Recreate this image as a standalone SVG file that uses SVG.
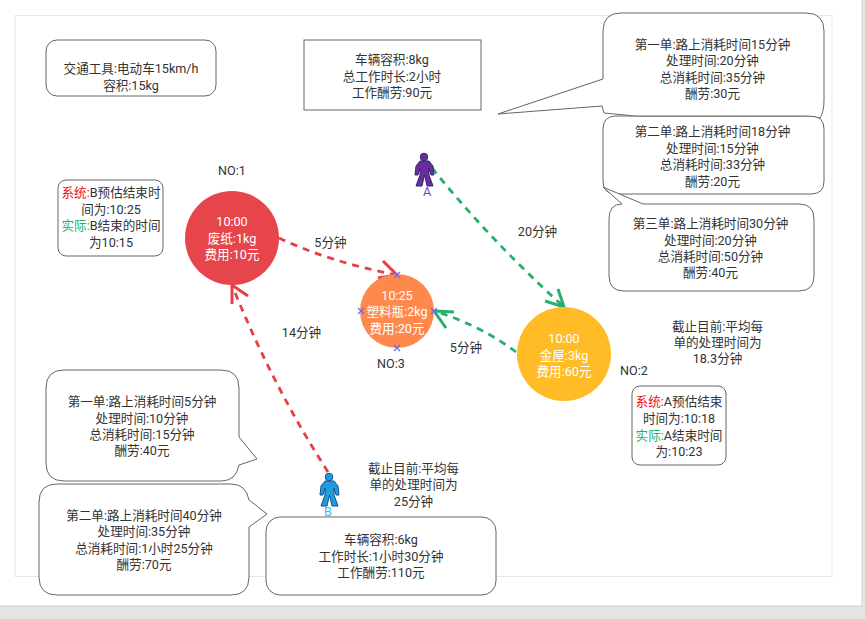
<svg xmlns="http://www.w3.org/2000/svg" width="865" height="619" viewBox="0 0 865 619">
<style>
text{font-family:Roboto,"Noto Sans CJK SC","Noto Sans",sans-serif;font-size:12.6px;fill:#333;text-anchor:middle}
.w{fill:#fff}
.box{fill:#fff;stroke:#666;stroke-width:1}
.dr{fill:none;stroke:#e63f46;stroke-width:2.800;stroke-dasharray:7 6}
.dg{fill:none;stroke:#27ae6b;stroke-width:2.800;stroke-dasharray:7 6}
.hr{fill:none;stroke:#e63f46;stroke-width:3}
.hg{fill:none;stroke:#27ae6b;stroke-width:3}
.x{stroke:#6a6af0;stroke-width:1.2;fill:none}
</style>
<rect width="865" height="619" fill="#e4e4e4"/>
<rect x="-2" y="-2" width="864" height="608" fill="#fff" stroke="#d0d0d0"/>
<rect x="15" y="15.500" width="817" height="561" fill="#fff" stroke="#e8e8e8"/>
<g id="connectors">
<path class="dr" d="M279 238Q330 262 397 275"/>
<path class="hr" d="M383 261L397 275L378 278"/>
<path class="dr" d="M328 472Q272 385 232 285"/>
<path class="hr" d="M232 304L232 285L248 296"/>
<path class="dg" d="M432 168Q490 240 564 307"/>
<path class="hg" d="M545 301L564 307L558 289"/>
<path class="dg" d="M516 352Q480 325 434 311"/>
<path class="hg" d="M454 312L434 311L446 328"/>
</g>
<g id="info-vehicle"><rect class="box" x="46" y="40" width="170" height="56" rx="11"/><text x="131" y="73">交通工具:电动车15km/h</text><text x="131" y="90">容积:15kg</text></g>
<g id="info-a"><rect class="box" x="304" y="40" width="177" height="70"/><text x="392" y="64">车辆容积:8kg</text><text x="392" y="81">总工作时长:2小时</text><text x="392" y="97">工作酬劳:90元</text></g>
<g id="a-order-2"><path class="box" d="M616 116H811Q824 116 824 129V181Q824 194 811 194H616Q603 194 603 181V129Q603 116 616 116Z"/><text x="712.500" y="136">第二单:路上消耗时间18分钟</text><text x="712.500" y="153">处理时间:15分钟</text><text x="712.500" y="169">总消耗时间:33分钟</text><text x="712.500" y="186">酬劳:20元</text></g>
<g id="a-order-1"><path class="box" d="M621 13H806Q824 13 824 31V100Q824 112 820 118Q815 116 806 116H635L604 113L602 106L498 114L603 79V31Q603 13 621 13Z"/><text x="712.500" y="49">第一单:路上消耗时间15分钟</text><text x="712.500" y="65">处理时间:20分钟</text><text x="712.500" y="82">总消耗时间:35分钟</text><text x="712.500" y="98">酬劳:30元</text></g>
<g id="a-order-3"><path class="box" d="M643 204H799Q814 204 814 219V276Q814 291 799 291H624Q609 291 609 276V219Q609 204 622 204L603 187Z"/><text x="710.500" y="228">第三单:路上消耗时间30分钟</text><text x="710.500" y="245">处理时间:20分钟</text><text x="710.500" y="261">总消耗时间:50分钟</text><text x="710.500" y="277">酬劳:40元</text></g>
<g id="b-status"><rect class="box" x="58" y="180" width="105" height="76" rx="8"/><text x="111" y="197"><tspan style="fill:#f01010">系统:</tspan>B预估结束时</text><text x="111" y="214">间为:10:25</text><text x="111" y="230"><tspan style="fill:#12b76a">实际:</tspan>B结束的时间</text><text x="111" y="247">为10:15</text></g>
<g id="a-status"><rect class="box" x="632" y="386" width="94" height="79" rx="8"/><text x="679" y="406"><tspan style="fill:#f01010">系统:</tspan>A预估结束</text><text x="679" y="423">时间为:10:18</text><text x="679" y="440"><tspan style="fill:#12b76a">实际:</tspan>A结束时间</text><text x="679" y="456">为:10:23</text></g>
<g id="node-1"><circle cx="232" cy="238" r="47" fill="#e5454b"/><text class="w" x="232" y="226">10:00</text><text class="w" x="232" y="243">废纸:1kg</text><text class="w" x="232" y="259">费用:10元</text><text x="232" y="175">NO:1</text></g>
<g id="node-3"><circle cx="397" cy="311" r="37" fill="#ff884d"/><text class="w" x="397" y="300">10:25</text><text class="w" x="397" y="316">塑料瓶:2kg</text><text class="w" x="397" y="333">费用:20元</text><text x="391" y="368">NO:3</text>
<path class="x" d="M394 272L400 278M400 272L394 278M358 308L364 314M364 308L358 314M431 308L437 314M437 308L431 314M394 345L400 351M400 345L394 351"/></g>
<g id="node-2"><circle cx="564" cy="354" r="47" fill="#ffbc27"/><text class="w" x="564" y="343">10:00</text><text class="w" x="564" y="360">金屋:3kg</text><text class="w" x="564" y="376">费用:60元</text><text x="634" y="375">NO:2</text></g>
<g id="courier-a"><circle cx="424" cy="157" r="3.800" fill="#6a2c9e" stroke="#2f2a6e"/><path d="M420 161H429L433 166L434 175H431L429 168V175L433 186H427L424.500 175L422 186H416L420 175V168L418 175H415L416 166Z" fill="#6a2c9e" stroke="#2f2a6e"/><text x="427" y="196" style="fill:#7a3fc4">A</text></g>
<g id="courier-b"><circle cx="329" cy="477" r="3.800" fill="#1f9be0" stroke="#14508c"/><path d="M325 481H334L338 486L339 495H336L334 488V495L338 506H332L329.500 495L327 506H321L325 495V488L323 495H320L321 486Z" fill="#1f9be0" stroke="#14508c"/><text x="328" y="516" style="fill:#3bbcff">B</text></g>
<g id="labels"><text x="330.500" y="247">5分钟</text><text x="301.500" y="337">14分钟</text><text x="466" y="352">5分钟</text><text x="537.500" y="236">20分钟</text>
<text x="717.500" y="331">截止目前:平均每</text><text x="717.500" y="347">单的处理时间为</text><text x="717.500" y="363">18.3分钟</text>
<text x="413.500" y="473">截止目前:平均每</text><text x="413.500" y="489">单的处理时间为</text><text x="413.500" y="506">25分钟</text></g>
<g id="b-order-1"><path class="box" d="M64 370H221Q239 370 239 388V437L257 459L239 465Q236 481 221 481H64Q46 481 46 463V388Q46 370 64 370Z"/><text x="142" y="406">第一单:路上消耗时间5分钟</text><text x="142" y="423">处理时间:10分钟</text><text x="142" y="439">总消耗时间:15分钟</text><text x="142" y="455">酬劳:40元</text></g>
<g id="b-order-2"><path class="box" d="M57 484H231Q246 484 249 500L267 514L249 527V577Q249 595 231 595H57Q39 595 39 577V502Q39 484 57 484Z"/><text x="144" y="520">第二单:路上消耗时间40分钟</text><text x="144" y="536">处理时间:35分钟</text><text x="144" y="553">总消耗时间:1小时25分钟</text><text x="144" y="569">酬劳:70元</text></g>
<g id="info-b"><rect class="box" x="266" y="517" width="230" height="78" rx="14"/><text x="381" y="544">车辆容积:6kg</text><text x="381" y="561">工作时长:1小时30分钟</text><text x="381" y="577">工作酬劳:110元</text></g>
</svg>
